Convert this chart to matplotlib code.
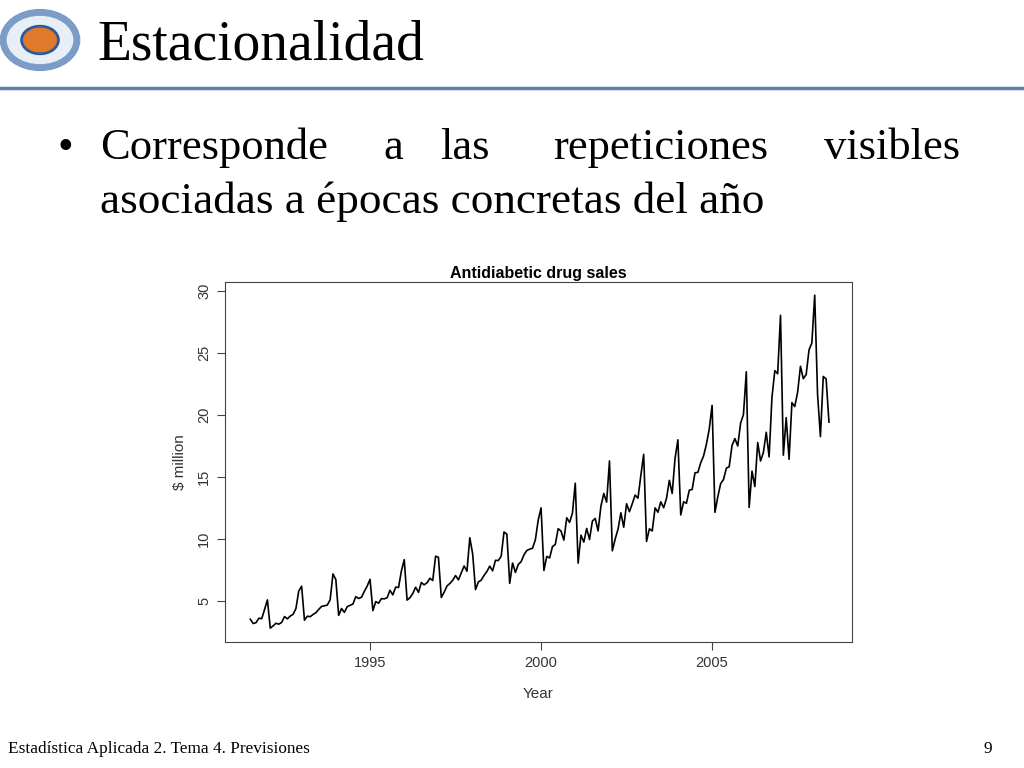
import numpy as np
import matplotlib.pyplot as plt
from matplotlib.patches import Circle

# monthly sales, Jul 1991 - Jun 2008 ($ million)
sales = [
    3.53, 3.18, 3.25, 3.61, 3.57, 4.31,
    5.09, 2.81, 2.99, 3.20, 3.13, 3.27, 3.74, 3.56, 3.78, 3.92, 4.39, 5.81,
    6.19, 3.45, 3.77, 3.73, 3.91, 4.05, 4.32, 4.56, 4.61, 4.67, 5.09, 7.18,
    6.73, 3.84, 4.39, 4.08, 4.54, 4.65, 4.75, 5.35, 5.20, 5.30, 5.77, 6.20,
    6.75, 4.22, 4.95, 4.82, 5.19, 5.17, 5.26, 5.86, 5.49, 6.12, 6.09, 7.42,
    8.33, 5.07, 5.26, 5.60, 6.11, 5.69, 6.49, 6.30, 6.47, 6.83, 6.65, 8.61,
    8.52, 5.28, 5.71, 6.21, 6.41, 6.67, 7.05, 6.70, 7.25, 7.82, 7.40, 10.10,
    8.80, 5.92, 6.53, 6.68, 7.06, 7.38, 7.81, 7.43, 8.28, 8.26, 8.60, 10.56,
    10.39, 6.42, 8.06, 7.30, 7.94, 8.17, 8.72, 9.07, 9.18, 9.25, 9.93, 11.53,
    12.51, 7.46, 8.59, 8.47, 9.39, 9.56, 10.83, 10.64, 9.91, 11.71, 11.34, 12.08,
    14.50, 8.05, 10.31, 9.75, 10.85, 9.96, 11.44, 11.66, 10.65, 12.65, 13.67, 12.97,
    16.30, 9.05, 10.00, 10.79, 12.11, 10.95, 12.84, 12.20, 12.85, 13.54, 13.29, 15.13,
    16.83, 9.80, 10.82, 10.65, 12.51, 12.16, 13.00, 12.52, 13.27, 14.73, 13.67, 16.50,
    18.00, 11.94, 13.00, 12.88, 13.94, 13.99, 15.34, 15.37, 16.14, 16.69, 17.64, 18.87,
    20.78, 12.15, 13.40, 14.46, 14.80, 15.71, 15.83, 17.55, 18.10, 17.50, 19.35, 20.03,
    23.49, 12.54, 15.47, 14.23, 17.78, 16.29, 16.98, 18.61, 16.62, 21.43, 23.58, 23.33,
    28.04, 16.76, 19.79, 16.43, 21.00, 20.68, 21.83, 23.93, 22.93, 23.26, 25.25, 25.81,
    29.67, 21.65, 18.26, 23.11, 22.91, 19.43,
]
start_year = 1991 + 6 / 12
years = start_year + np.arange(len(sales)) / 12
x_ticks = [1995, 2000, 2005]
y_ticks = [5, 10, 15, 20, 25, 30]

fig = plt.figure(figsize=(10.24, 7.68), dpi=100)
serif = 'Liberation Serif'
sans = 'Liberation Sans'

# slide header
fig.text(97 / 1024, 1 - 45 / 768, 'Estacionalidad', family=serif, fontsize=40, va='center')
fig.add_artist(plt.Line2D([0, 1], [1 - 88 / 768] * 2, color='#5f7fa8', lw=2.5))
fig.add_artist(Circle((40 / 1024, 1 - 40 / 768), 0.036, transform=fig.transFigure,
                      facecolor='#e8eef6', edgecolor='#7a9cc6', lw=5))
fig.add_artist(Circle((40 / 1024, 1 - 40 / 768), 0.018, transform=fig.transFigure,
                      facecolor='#e07a2a', edgecolor='#2d5a9a', lw=2))

# bullet text, justified first line
y1 = 1 - 148 / 768
fig.text(58 / 1024, y1, '•', family=serif, fontsize=32, va='center')
for word, xp in [('Corresponde', 100), ('a', 383), ('las', 440), ('repeticiones', 553), ('visibles', 824)]:
    fig.text(xp / 1024, y1, word, family=serif, fontsize=32, va='center')
fig.text(100 / 1024, 1 - 202 / 768, 'asociadas a épocas concretas del año',
         family=serif, fontsize=32.5, va='center')

# footer
fig.text(8 / 1024, 1 - 749 / 768, 'Estadística Aplicada 2. Tema 4. Previsiones',
         family=serif, fontsize=12.4, va='center')
fig.text(992 / 1024, 1 - 749 / 768, '9', family=serif, fontsize=12.4, va='center', ha='right')

# chart
ax = fig.add_axes([225 / 1024, 1 - 642 / 768, 627 / 1024, 360 / 768])
ax.plot(years, sales, color='black', lw=1.2)
ax.set_xlim(1990.76, 2009.09)
ax.set_ylim(1.69, 30.73)
ax.set_xticks(x_ticks)
ax.set_yticks(y_ticks)
ax.set_xticklabels([str(v) for v in x_ticks], family=sans)
ax.set_yticklabels([str(v) for v in y_ticks], rotation=90, va='center', family=sans)
ax.tick_params(labelsize=10.5, color='#444444', labelcolor='#333333', length=6, pad=4)
for s in ax.spines.values():
    s.set_color('#444444')
ax.set_title('Antidiabetic drug sales', family=sans, fontsize=11.5, fontweight='bold', pad=3)
ax.set_xlabel('Year', family=sans, fontsize=11, color='#333333', labelpad=12)
ax.set_ylabel('$ million', family=sans, fontsize=11, color='#333333', labelpad=7)

fig.savefig('out.png', dpi=100)
